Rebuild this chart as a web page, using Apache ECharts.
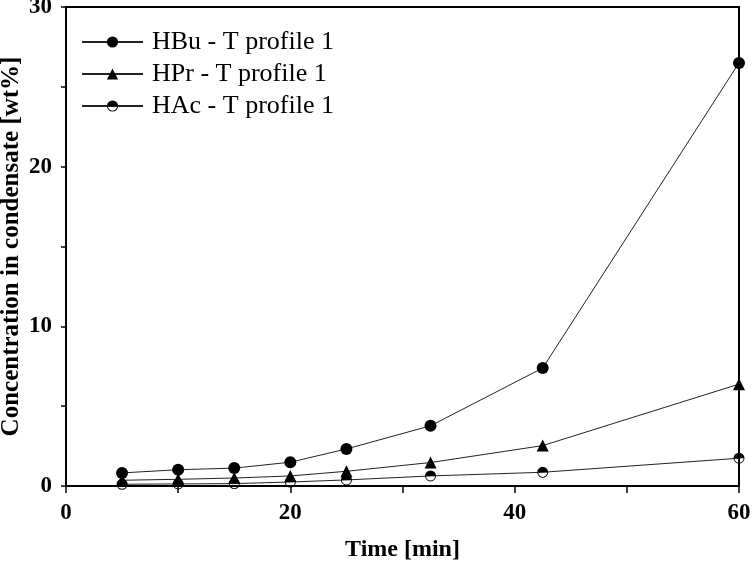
<!DOCTYPE html>
<html>
<head>
<meta charset="utf-8">
<script src="https://cdn.jsdelivr.net/npm/echarts@6/dist/echarts.min.js"></script>
<style>html,body{margin:0;padding:0;background:#fff}#c{width:752px;height:566px}</style>
</head>
<body>
<div id="c"></div>
<script>
const times = [5, 10, 15, 20, 25, 32.5, 42.5, 60];
const hbu = [0.82, 1.02, 1.12, 1.49, 2.32, 3.77, 7.39, 26.5];
const hpr = [0.36, 0.42, 0.50, 0.63, 0.92, 1.47, 2.53, 6.38];
const hac = [0.11, 0.13, 0.15, 0.25, 0.38, 0.63, 0.86, 1.74];
const seriesNames = ['HBu - T profile 1', 'HPr - T profile 1', 'HAc - T profile 1'];
const xTitle = 'Time [min]';
const yTitle = 'Concentration in condensate [wt%]';

const halfCircle = 'path://M0,10A10,10 0 1,1 20,10A10,10 0 1,1 0,10Z M1.6,10A8.4,8.4 0 1,0 18.4,10A8.4,8.4 0 1,0 1.6,10Z M1.6,10A8.4,8.4 0 0,1 18.4,10Z';

function pairs(v){ return times.map((t,i)=>[t, v[i]]); }

const serif = '"Liberation Serif", "DejaVu Serif", serif';
const chart = echarts.init(document.getElementById('c'), null, {renderer:'canvas'});
const lineStyle = {color:'#222', width:1};
chart.setOption({
  animation:false,
  backgroundColor:'#fff',
  grid:{left:66, right:13, top:7, bottom:80, outerBoundsMode:'none', containLabel:false,
        show:true, borderColor:'#000', borderWidth:2, backgroundColor:'transparent'},
  legend:{
    orient:'vertical', left:81, top:29, padding:0, itemWidth:61, itemHeight:14, itemGap:6,
    textStyle:{fontFamily:serif, fontSize:26, color:'#000', lineHeight:26, padding:[0,0,0,4]},
    data: seriesNames
  },
  xAxis:{
    type:'value', min:0, max:60, interval:20,
    name:xTitle, nameLocation:'middle', nameGap:52, nameMoveOverlap:false,
    nameTextStyle:{fontFamily:serif, fontSize:24, fontWeight:'bold', color:'#000'},
    axisLine:{show:true, onZero:false, lineStyle:{color:'#000', width:2}},
    axisTick:{show:true, length:7, lineStyle:{color:'#000', width:1.5}},
    minorTick:{show:true, splitNumber:2, length:7, lineStyle:{color:'#000', width:1.5}},
    splitLine:{show:false},
    axisLabel:{fontFamily:serif, fontSize:23, fontWeight:'bold', color:'#000', margin:16}
  },
  yAxis:{
    type:'value', min:0, max:30, interval:10,
    name:yTitle, nameLocation:'middle', nameGap:42, nameMoveOverlap:false,
    nameTextStyle:{fontFamily:serif, fontSize:25, fontWeight:'bold', color:'#000'},
    axisLine:{show:true, onZero:false, lineStyle:{color:'#000', width:2}},
    axisTick:{show:true, length:5, lineStyle:{color:'#000', width:1.5}},
    minorTick:{show:true, splitNumber:2, length:5, lineStyle:{color:'#000', width:1.5}},
    splitLine:{show:false},
    axisLabel:{fontFamily:serif, fontSize:23, fontWeight:'bold', color:'#000', margin:14}
  },
  series:[
    {name:seriesNames[0], type:'line', data:pairs(hbu), symbol:'circle', symbolSize:12,
     itemStyle:{color:'#000'}, lineStyle:lineStyle, z:3},
    {name:seriesNames[1], type:'line', data:pairs(hpr), symbol:'triangle', symbolSize:12,
     itemStyle:{color:'#000'}, lineStyle:lineStyle, z:4},
    {name:seriesNames[2], type:'line', data:pairs(hac), symbol:halfCircle, symbolSize:11,
     itemStyle:{color:'#000'}, lineStyle:lineStyle, z:5}
  ]
});
</script>
</body>
</html>
